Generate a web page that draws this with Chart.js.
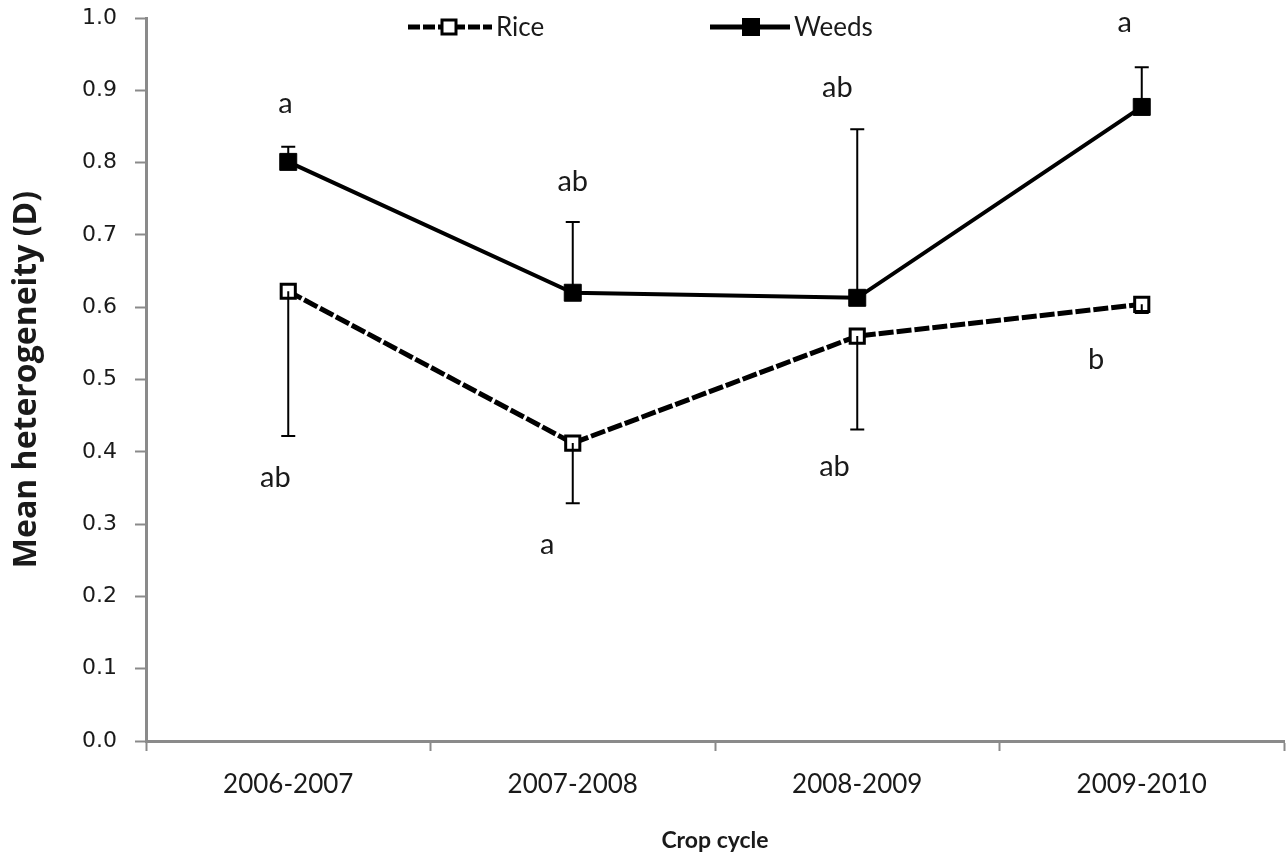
<!DOCTYPE html>
<html>
<head>
<meta charset="utf-8">
<script src="https://cdn.jsdelivr.net/npm/chart.js@4.4.0/dist/chart.umd.min.js"></script>
<style>
  html, body { margin: 0; padding: 0; background: #fff; }
  #wrap { width: 1286px; height: 862px; position: relative; }
</style>
</head>
<body>
<div id="wrap"><canvas id="c"></canvas></div>
<script>
const categories = ['2006-2007', '2007-2008', '2008-2009', '2009-2010'];
const riceMean = [0.622, 0.412, 0.560, 0.604];
const riceErr = [0.200, 0.083, 0.129, 0.012];     // lower error bar
const weedsMean = [0.801, 0.620, 0.613, 0.877];
const weedsErr = [0.021, 0.098, 0.233, 0.055];    // upper error bar
const yTicks = [0.0, 0.1, 0.2, 0.3, 0.4, 0.5, 0.6, 0.7, 0.8, 0.9, 1.0];
const weedsLetters = ['a', 'ab', 'ab', 'a'];
const weedsLetterY = [0.882, 0.773, 0.903, 0.994];
const weedsLetterDx = [-0.01, 0.0, -0.07, -0.06];
const riceLetters = ['ab', 'a', 'ab', 'b'];
const riceLetterY = [0.364, 0.272, 0.380, 0.528];
const riceLetterDx = [-0.045, -0.09, -0.08, -0.16];

const GRAY = '#8a8a8a';
const TXT = '#1a1a1a';

const errorBars = {
  id: 'errorBars',
  afterDatasetsDraw(chart) {
    const ctx = chart.ctx, x = chart.scales.x, y = chart.scales.y;
    ctx.save();
    ctx.strokeStyle = '#000';
    ctx.lineWidth = 2;
    const cap = 7;
    categories.forEach((c, i) => {
      const px = x.getPixelForValue(i);
      let y0 = y.getPixelForValue(weedsMean[i]);
      let y1 = y.getPixelForValue(weedsMean[i] + weedsErr[i]);
      ctx.beginPath(); ctx.moveTo(px, y0); ctx.lineTo(px, y1);
      ctx.moveTo(px - cap, y1); ctx.lineTo(px + cap, y1); ctx.stroke();
      y0 = y.getPixelForValue(riceMean[i]);
      y1 = y.getPixelForValue(riceMean[i] - riceErr[i]);
      ctx.beginPath(); ctx.moveTo(px, y0); ctx.lineTo(px, y1);
      ctx.moveTo(px - cap, y1); ctx.lineTo(px + cap, y1); ctx.stroke();
    });
    ctx.restore();
  },
  afterDraw(chart) {
    const ctx = chart.ctx, x = chart.scales.x, y = chart.scales.y;
    ctx.save();
    ctx.fillStyle = TXT;
    ctx.font = '29px Lato';
    ctx.textAlign = 'center';
    ctx.textBaseline = 'middle';
    categories.forEach((c, i) => {
      ctx.fillText(weedsLetters[i], x.getPixelForValue(i + weedsLetterDx[i]), y.getPixelForValue(weedsLetterY[i]));
      ctx.fillText(riceLetters[i], x.getPixelForValue(i + riceLetterDx[i]), y.getPixelForValue(riceLetterY[i]));
    });
    // legend
    const ly = 27;
    ctx.strokeStyle = '#000';
    ctx.lineWidth = 5;
    ctx.setLineDash([12, 3]);
    ctx.beginPath(); ctx.moveTo(408, ly); ctx.lineTo(492, ly); ctx.stroke();
    ctx.setLineDash([]);
    ctx.fillStyle = '#fff';
    ctx.lineWidth = 3;
    ctx.fillRect(442, ly - 7, 14, 14);
    ctx.strokeRect(442, ly - 7, 14, 14);
    ctx.lineWidth = 5;
    ctx.beginPath(); ctx.moveTo(710, ly); ctx.lineTo(790, ly); ctx.stroke();
    ctx.fillStyle = '#000';
    ctx.fillRect(742, ly - 9, 18, 18);
    ctx.fillStyle = TXT;
    ctx.font = '26px Lato';
    ctx.textAlign = 'left';
    ctx.fillText('Rice', 496, ly + 1);
    ctx.fillText('Weeds', 794, ly + 1);
    ctx.restore();
  }
};

new Chart(document.getElementById('c'), {
  type: 'line',
  data: {
    labels: categories,
    datasets: [
      {
        label: 'Rice',
        data: riceMean,
        borderColor: '#000',
        borderWidth: 5,
        borderDash: [15, 3],
        pointStyle: 'rect',
        pointRadius: 10,
        pointBorderWidth: 3,
        pointBackgroundColor: '#fff',
        pointBorderColor: '#000',
        tension: 0
      },
      {
        label: 'Weeds',
        data: weedsMean,
        borderColor: '#000',
        borderWidth: 4,
        pointStyle: 'rect',
        pointRadius: 12,
        pointBorderWidth: 1,
        pointBackgroundColor: '#000',
        pointBorderColor: '#000',
        tension: 0
      }
    ]
  },
  options: {
    responsive: true,
    maintainAspectRatio: false,
    animation: false,
    layout: { autoPadding: false, padding: { top: 18, right: 2, left: 0, bottom: 0 } },
    plugins: { legend: { display: false }, tooltip: { enabled: false } },
    scales: {
      x: {
        offset: true,
        grid: { offset: true, drawOnChartArea: false, drawTicks: true, tickLength: 10, tickColor: GRAY, tickWidth: 2 },
        border: { color: GRAY, width: 3 },
        ticks: { color: TXT, font: { family: 'Lato', size: 26 }, padding: 18 },
        title: { display: true, text: 'Crop cycle', color: TXT, font: { family: 'Lato', size: 23, weight: 'bold' }, padding: { top: 10, bottom: 8 } },
        afterFit(s) { s.height = 121; s.paddingLeft = 0; s.paddingRight = 0; }
      },
      y: {
        min: 0, max: 1.0,
        afterBuildTicks(s) { s.ticks = yTicks.map(v => ({ value: v })); },
        grid: { drawOnChartArea: false, drawTicks: true, tickLength: 11, tickColor: GRAY, tickWidth: 2 },
        border: { color: GRAY, width: 3 },
        ticks: { color: TXT, font: { family: 'DejaVu Sans', size: 22 }, padding: 18, callback: v => Number(v).toFixed(1) },
        title: { display: true, text: 'Mean heterogeneity (D)', color: TXT, font: { family: 'Open Sans', size: 32, weight: 'bold' }, padding: { top: 8, bottom: 4 } },
        afterFit(s) { s.width = 146; s.paddingTop = 0; s.paddingBottom = 0; }
      }
    }
  },
  plugins: [errorBars]
});
</script>
</body>
</html>
